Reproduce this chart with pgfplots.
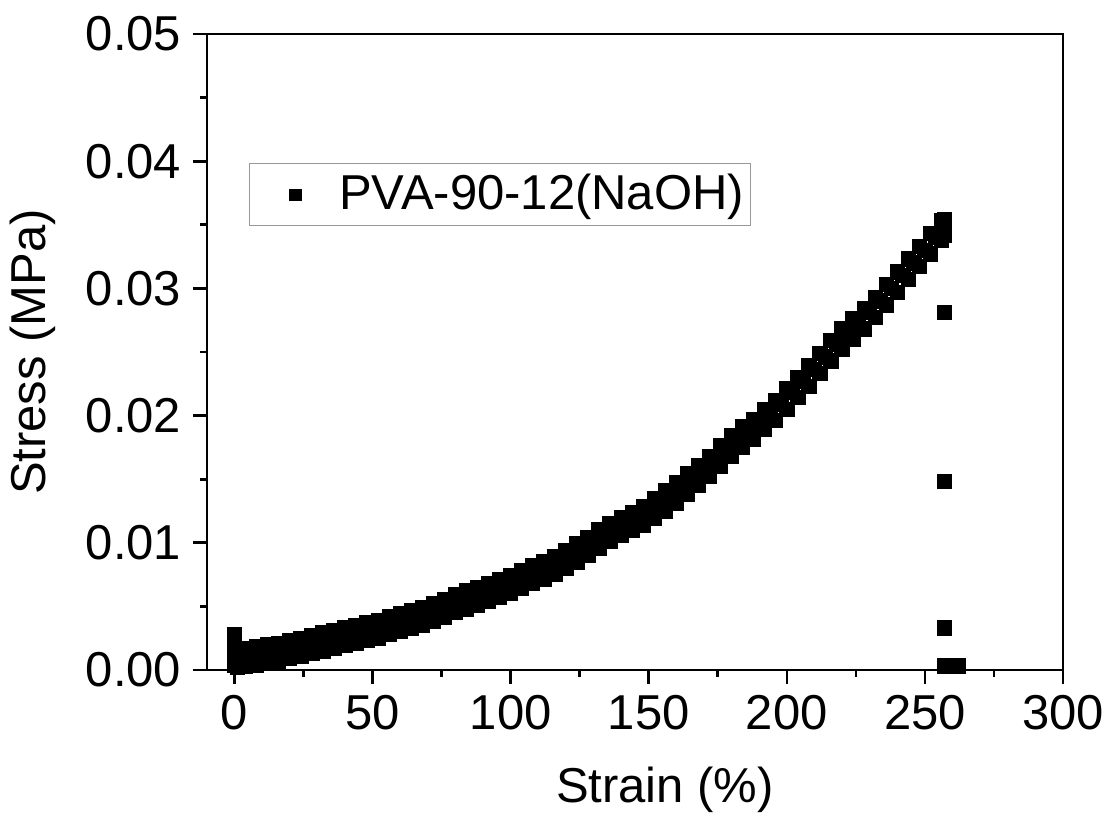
\documentclass[border=0pt]{standalone}
\usepackage{fontspec}
\setmainfont{Liberation Sans}
\usepackage{pgfplots}
\pgfplotsset{compat=1.18}
\usepackage{pgfplotstable}

% middle of the scatter band (x, mid) and its two edges (xs, lo, hi)
\pgfplotstableread{
x mid xs lo hi
2 0.0009 4 0.0003 0.0017
6 0.0010 8 0.0004 0.0018
10 0.0012 12 0.0006 0.0020
14 0.0014 16 0.0007 0.0021
18 0.0015 20 0.0009 0.0023
22 0.0017 24 0.0011 0.0025
26 0.0019 28 0.0013 0.0027
30 0.0021 32 0.0015 0.0029
34 0.0023 36 0.0017 0.0031
38 0.0025 40 0.0019 0.0033
42 0.0027 44 0.0021 0.0035
46 0.0029 48 0.0023 0.0037
50 0.0031 52 0.0025 0.0039
54 0.0034 56 0.0028 0.0042
58 0.0036 60 0.0030 0.0044
62 0.0039 64 0.0033 0.0047
66 0.0041 68 0.0035 0.0049
70 0.0044 72 0.0038 0.0052
74 0.0047 76 0.0041 0.0055
78 0.0050 80 0.0045 0.0059
82 0.0054 84 0.0048 0.0062
86 0.0057 88 0.0051 0.0065
90 0.0060 92 0.0054 0.0068
94 0.0063 96 0.0057 0.0071
98 0.0066 100 0.0060 0.0074
102 0.0069 104 0.0064 0.0078
106 0.0073 108 0.0068 0.0082
110 0.0077 112 0.0071 0.0085
114 0.0080 116 0.0075 0.0089
118 0.0085 120 0.0080 0.0094
122 0.0090 124 0.0085 0.0099
126 0.0095 128 0.0090 0.0104
130 0.0100 132 0.0096 0.0110
134 0.0106 136 0.0101 0.0115
138 0.0111 140 0.0106 0.0120
142 0.0115 144 0.0110 0.0124
146 0.0119 148 0.0114 0.0128
150 0.0124 152 0.0119 0.0135
154 0.0130 156 0.0125 0.0141
158 0.0136 160 0.0131 0.0147
162 0.0143 164 0.0138 0.0154
166 0.0150 168 0.0145 0.0161
170 0.0157 172 0.0152 0.0168
174 0.0164 176 0.0160 0.0176
178 0.0172 180 0.0168 0.0184
182 0.0180 184 0.0175 0.0191
186 0.0186 188 0.0181 0.0197
190 0.0193 192 0.0189 0.0205
194 0.0201 196 0.0196 0.0212
198 0.0209 200 0.0205 0.0221
202 0.0218 204 0.0214 0.0230
206 0.0227 208 0.0223 0.0239
210 0.0236 212 0.0233 0.0249
214 0.0246 216 0.0243 0.0259
218 0.0256 220 0.0252 0.0268
222 0.0264 224 0.0260 0.0276
226 0.0272 228 0.0268 0.0284
230 0.0281 232 0.0277 0.0293
234 0.0290 236 0.0287 0.0303
238 0.0300 240 0.0297 0.0313
242 0.0310 244 0.0307 0.0323
246 0.0320 248 0.0317 0.0333
250 0.0330 252 0.0327 0.0343
254 0.0340 256 0.0338 0.0353
}\curve

\begin{document}
\begin{tikzpicture}
\begin{axis}[
  name=ax,
  width=256.8pt, height=190.8pt, scale only axis,
  xmin=-10, xmax=300, ymin=0, ymax=0.05,
  xtick={0,50,100,150,200,250,300},
  ytick={0,0.01,0.02,0.03,0.04,0.05},
  minor x tick num=1, minor y tick num=1,
  tick align=outside, xtick pos=bottom, ytick pos=left,
  major tick length=4.2pt, minor tick length=2.1pt,
  axis line style={line width=0.8pt},
  every tick/.style={black, line width=0.8pt},
  scaled y ticks=false,
  yticklabel style={/pgf/number format/.cd, fixed, fixed zerofill, precision=2},
  /pgf/number format/assume math mode=true,
  tick label style={font=\fontsize{14.7}{17}\selectfont},
  xlabel={Strain (\%)}, ylabel={Stress (MPa)},
  every axis x label/.style={at={(axis description cs:0.535,-0.1887)}, anchor=center,
    font=\fontsize{14.7}{17}\selectfont},
  every axis y label/.style={at={(axis description cs:-0.2033,0.5)}, rotate=90, anchor=center,
    font=\fontsize{14.7}{17}\selectfont},
  legend style={at={(0.049,0.797)}, anchor=north west, draw=gray!80, line width=0.4pt,
    font=\fontsize{14.7}{17}\selectfont, inner xsep=0pt, inner ysep=1.2pt},
  legend cell align=left,
]
\addplot[only marks, mark=square*, mark size=2.1pt, black,
  legend image code/.code={
    \path[draw=none] (0pt,0pt) -- (24.9pt,0pt);
    \path[draw=none] plot[mark=square*, mark size=1.65pt, mark options={draw=black, fill=black}]
      coordinates {(13.8pt,0pt)};
  }] table[x=x, y=mid] {\curve};
\addlegendentry{PVA-90-12(NaOH)}
\addplot[only marks, mark=square*, mark size=2.1pt, black, forget plot] table[x=xs, y=lo] {\curve};
\addplot[only marks, mark=square*, mark size=2.1pt, black, forget plot] table[x=xs, y=hi] {\curve};
% start spike and the break at the end
\addplot[only marks, mark=square*, mark size=2.1pt, black, forget plot] coordinates {
  (0,0.0028) (0,0.0020) (0,0.0012) (0,0.0004) (1,0.0002) (2,0.0003)
  (257,0.0354) (257,0.0342) (257,0.0281) (257,0.0148) (257,0.0033)
  (257,0.0003) (259,0.0003) (261,0.0003) (262,0.0003)
};
\end{axis}
\pgfresetboundingbox
\path ([xshift=-62.1pt,yshift=-45.9pt]ax.south west) rectangle ([xshift=14.1pt,yshift=10.2pt]ax.north east);
\end{tikzpicture}
\end{document}
